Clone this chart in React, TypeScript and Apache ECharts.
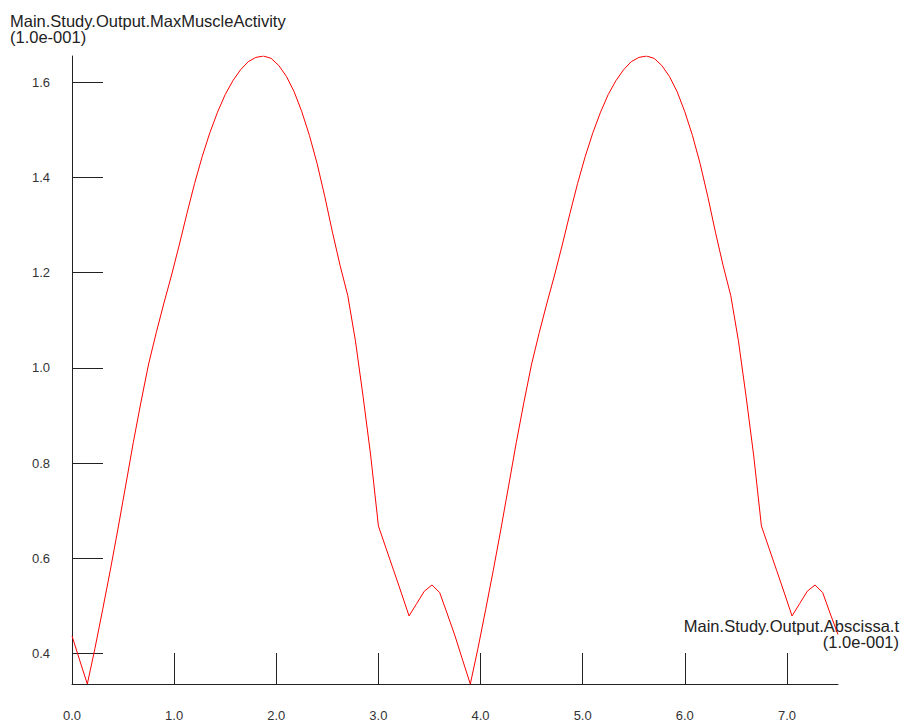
import React, { useEffect, useRef } from "react";
import * as echarts from "echarts";

const times: number[] = [
  0, 0.075, 0.15, 0.225, 0.3, 0.375, 0.45, 0.525, 0.6, 0.675, 0.75, 0.825, 0.9, 0.975,
  1.05, 1.125, 1.2, 1.275, 1.35, 1.425, 1.5, 1.575, 1.65, 1.725, 1.8, 1.875, 1.95, 2.025,
  2.1, 2.175, 2.25, 2.325, 2.4, 2.475, 2.55, 2.625, 2.7, 2.775, 2.85, 2.925, 3.0, 3.075,
  3.15, 3.225, 3.3, 3.375, 3.45, 3.525, 3.6, 3.675, 3.75, 3.825, 3.9, 3.975, 4.05, 4.125,
  4.2, 4.275, 4.35, 4.425, 4.5, 4.575, 4.65, 4.725, 4.8, 4.875, 4.95, 5.025, 5.1, 5.175,
  5.25, 5.325, 5.4, 5.475, 5.55, 5.625, 5.7, 5.775, 5.85, 5.925, 6.0, 6.075, 6.15, 6.225,
  6.3, 6.375, 6.45, 6.525, 6.6, 6.675, 6.75, 6.825, 6.9, 6.975, 7.05, 7.125, 7.2, 7.275,
  7.35, 7.425, 7.5,
];

const maxMuscleActivity: number[] = [
  0.437, 0.386, 0.336, 0.411, 0.492, 0.575, 0.662, 0.752, 0.843, 0.928, 1.008, 1.074, 1.136, 1.195,
  1.258, 1.324, 1.387, 1.444, 1.494, 1.537, 1.574, 1.603, 1.626, 1.643, 1.652, 1.655, 1.65, 1.635,
  1.612, 1.58, 1.538, 1.488, 1.429, 1.36, 1.285, 1.215, 1.152, 1.057, 0.94, 0.815, 0.668, 0.621,
  0.574, 0.527, 0.479, 0.505, 0.531, 0.544, 0.528, 0.483, 0.437, 0.386, 0.336, 0.411, 0.492, 0.575,
  0.662, 0.752, 0.843, 0.928, 1.008, 1.074, 1.136, 1.195, 1.258, 1.324, 1.387, 1.444, 1.494, 1.537,
  1.574, 1.603, 1.626, 1.643, 1.652, 1.655, 1.65, 1.635, 1.612, 1.58, 1.538, 1.488, 1.429, 1.36,
  1.285, 1.215, 1.152, 1.057, 0.94, 0.815, 0.668, 0.621, 0.574, 0.527, 0.479, 0.505, 0.531, 0.544,
  0.528, 0.483, 0.44,
];

const xTicks: number[] = [0, 1, 2, 3, 4, 5, 6, 7];
const yTicks: number[] = [0.4, 0.6, 0.8, 1.0, 1.2, 1.4, 1.6];

const yTitle = "Main.Study.Output.MaxMuscleActivity";
const yScale = "(1.0e-001)";
const xTitle = "Main.Study.Output.Abscissa.t";
const xScale = "(1.0e-001)";

const FONT = '"Liberation Sans", Arial, sans-serif';
const INK = "#222";

export default function App() {
  const ref = useRef<HTMLDivElement>(null);
  useEffect(() => {
    if (!ref.current) return;
    const chart = echarts.init(ref.current, undefined, { renderer: "svg" });
    const data = times.map((t, i) => [t, maxMuscleActivity[i]]);
    chart.setOption({
      animation: false,
      backgroundColor: "#fff",
      grid: { left: 72, right: 65, top: 56, bottom: 38, containLabel: false },
      xAxis: {
        type: "value",
        min: 0,
        max: 7.5,
        axisLine: { show: true, onZero: false, lineStyle: { color: INK, width: 1 } },
        axisTick: { show: true, inside: true, length: 31, customValues: xTicks, lineStyle: { color: INK } },
        axisLabel: {
          customValues: xTicks,
          formatter: (v: number) => v.toFixed(1),
          color: "#333",
          fontSize: 13,
          fontFamily: FONT,
          margin: 25,
        },
        splitLine: { show: false },
      },
      yAxis: {
        type: "value",
        min: "dataMin",
        max: "dataMax",
        axisLine: { show: true, onZero: false, lineStyle: { color: INK, width: 1 } },
        axisTick: { show: true, inside: true, length: 31, customValues: yTicks, lineStyle: { color: INK } },
        axisLabel: {
          customValues: yTicks,
          formatter: (v: number) => v.toFixed(1),
          color: "#333",
          fontSize: 13,
          fontFamily: FONT,
          margin: 22,
        },
        splitLine: { show: false },
      },
      graphic: [
        { type: "text", x: 10, y: 20.5, style: { text: yTitle, font: `16.5px ${FONT}`, fill: INK, align: "left", verticalAlign: "middle" } },
        { type: "text", x: 10, y: 36.5, style: { text: yScale, font: `16.5px ${FONT}`, fill: INK, align: "left", verticalAlign: "middle" } },
        { type: "text", x: 899, y: 625.5, style: { text: xTitle, font: `16.5px ${FONT}`, fill: INK, align: "right", verticalAlign: "middle" } },
        { type: "text", x: 899, y: 642, style: { text: xScale, font: `16.5px ${FONT}`, fill: INK, align: "right", verticalAlign: "middle" } },
      ],
      series: [
        {
          type: "line",
          data,
          showSymbol: false,
          symbol: "none",
          lineStyle: { color: "#ff0000", width: 1 },
          itemStyle: { color: "#ff0000" },
          smooth: false,
        },
      ],
    });
    return () => chart.dispose();
  }, []);
  return <div ref={ref} style={{ position: "absolute", left: 0, top: 0, width: 903, height: 722 }} />;
}
